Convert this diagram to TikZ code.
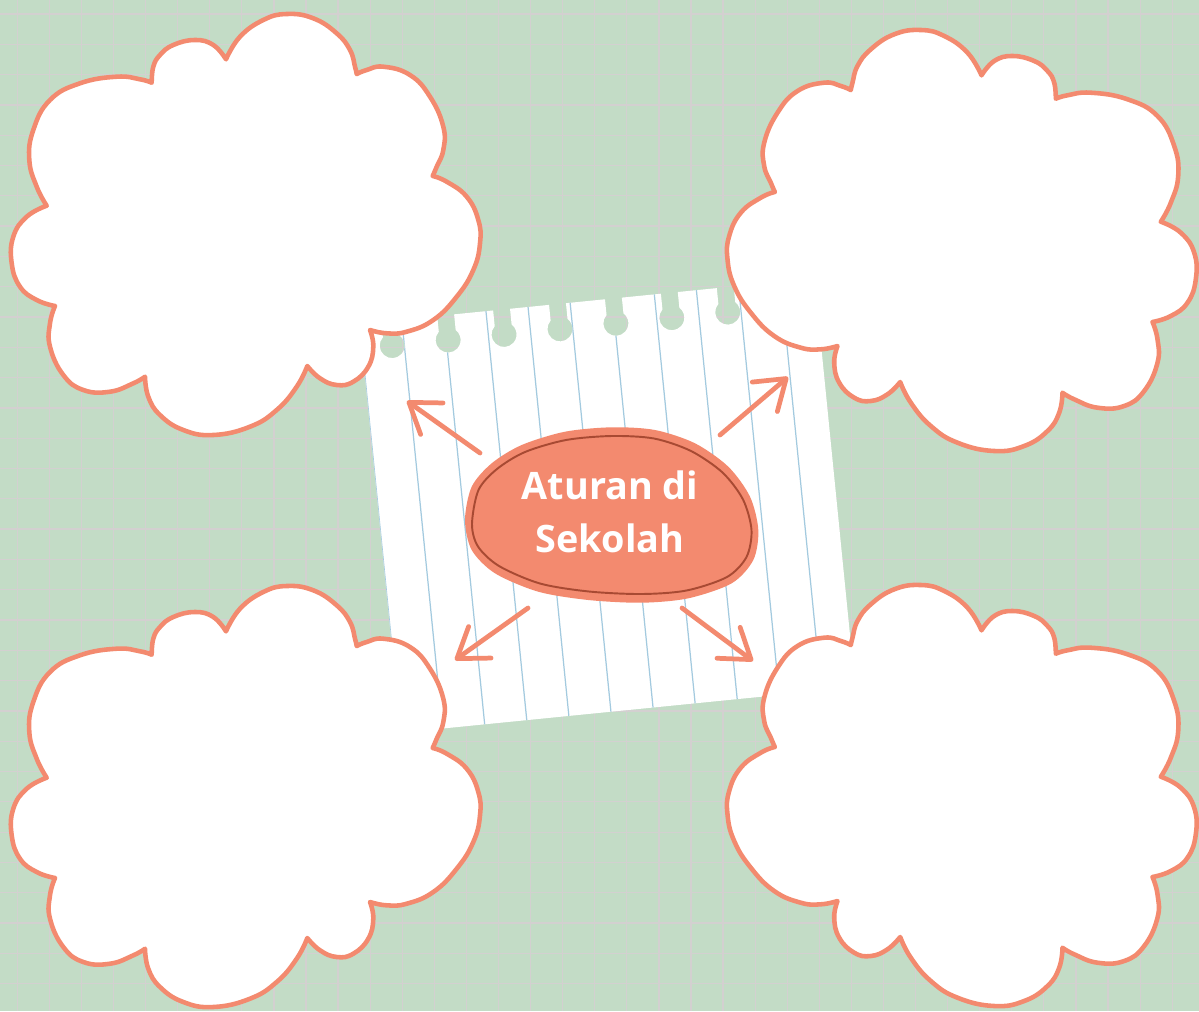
\documentclass[tikz,border=0pt]{standalone}
\usepackage{fontspec}
\newfontfamily\topicfont{Open Sans}
\usetikzlibrary{arrows.meta}

\definecolor{bggreen}{HTML}{C3DCC6}
\definecolor{gridgray}{HTML}{D3D0D0}
\definecolor{salmon}{HTML}{F38A6F}
\definecolor{rust}{HTML}{A84A33}
\definecolor{ruleblue}{HTML}{A3CADF}

\tikzset{
  gridline/.style={gridgray, line width=0.7pt},
  ruling/.style={ruleblue, line width=0.7pt},
  bubble/.style={fill=white, draw=salmon, line width=2.6pt, line join=round},
  pointer/.style={salmon, line width=2.7pt, line cap=round, line join=round,
    -{Straight Barb[length=16pt, width=22pt, round]}},
}

% one cloud, traced in pixels; the other three are copies
\def\cloudpath{%
  plot[smooth, tension=0.75] coordinates {(151.7,82.7) (153.3,66.7) (160,55) (173.3,45) (195,40) (213.3,45) (226,59.3)}
  -- plot[smooth, tension=0.75] coordinates {(226,59.3) (240,36.7) (263.3,20) (286.7,14) (313.3,18.3) (336.7,33.3) (350,50) (355,66.7) (356.7,74)}
  -- plot[smooth, tension=0.75] coordinates {(356.7,74) (366.7,70) (383.3,66.7) (410,75) (430,96.7) (443.3,126.7) (443.3,150) (436.7,166.7) (432.7,176)}
  -- plot[smooth, tension=0.75] coordinates {(432.7,176) (446.7,181.7) (466.7,196.7) (478.3,220) (480,243.3) (473.3,270) (456.7,296.7) (433.3,320) (406.7,331.7) (386.7,333.3) (370,330)}
  -- plot[smooth, tension=0.75] coordinates {(370,330) (373.3,346.7) (368.3,366.7) (353.3,381.7) (336.7,385) (320,378.3) (307.3,366)}
  -- plot[smooth, tension=0.75] coordinates {(307.3,366) (296.7,386.7) (276.7,410) (250,426.7) (213.3,435) (183.3,430) (160,415) (148.3,396.7) (145,376.7)}
  -- plot[smooth, tension=0.75] coordinates {(145,376.7) (133.3,383.3) (110,391.7) (83.3,390) (63.3,375) (50,346.7) (50,323.3) (55,306)}
  -- plot[smooth, tension=0.75] coordinates {(55,306) (36.7,300) (20,286.7) (11.7,263.3) (13.3,236.7) (26.7,216.7) (46.7,205.7)}
  -- plot[smooth, tension=0.75] coordinates {(46.7,205.7) (36.7,186.7) (29.3,160) (33.3,130) (50,100) (80,83.3) (116.7,76.7) (140,79.3) (151.7,82.7)}
  -- cycle}

% torn notebook sheet with its ring holes
\def\paperpath{(-229,205) -- (-229,-206)
  \foreach \hx in {-198.8,-142.6,-86.4,-30.2,26,82.2,138.4}{
    -- (\hx-8.5,-206) -- (\hx-8.5,-190.2)
    arc[start angle=227.2, end angle=-47.2, radius=12.5] -- (\hx+8.5,-206)}
  -- (228,-206) -- (228,205) -- cycle}

\begin{document}
\begin{tikzpicture}[x=0.02cm, y=-0.02cm]
  \useasboundingbox (0,0) rectangle (1199,1011);
  \fill[bggreen] (0,0) rectangle (1199,1011);
  \foreach \k in {0,...,36} \draw[gridline] (17.3+32.08*\k,0) -- ++(0,1011);
  \foreach \k in {0,...,32} \draw[gridline] (0,14+30.3*\k) -- ++(1199,0);

  \begin{scope}[shift={(608,506)}, rotate=5.7]
    \fill[white] \paperpath;
    \begin{scope}
      \clip \paperpath;
      \foreach \k in {0,...,10} \draw[ruling] (-229+42.3*\k,-215) -- ++(0,425);
    \end{scope}
  \end{scope}

  % centre topic
  \fill[salmon] plot[smooth cycle] coordinates {(465,520) (471.7,486.7) (491.7,463.3) (521.7,445)
    (565,431.7) (611.7,427.3) (655,430) (695,443.3) (728.3,466.7) (750,496.7) (758.3,530)
    (753.3,560) (731.7,583.3) (688.3,598.3) (641.7,602.7) (588.3,600) (538.3,591.7)
    (495,573.3) (471.7,550)};
  \draw[rust, line width=1.1pt] plot[smooth cycle] coordinates {(472,524) (478.5,490) (497,469)
    (525,452) (566,440) (611.7,436) (654,438.5) (691,451) (722.5,472.5) (743,499.5)
    (751.5,530) (746.5,557) (727,577) (686.5,590.5) (641.7,594) (589,591.5) (540,583.5)
    (499,566) (478,546.5)};
  \node (topic) at (610,512) [text=white, align=center,
    font=\topicfont\bfseries\fontsize{21.5}{29.9}\selectfont] {Aturan di\\Sekolah};

  % four clouds
  \path[bubble] \cloudpath;
  \begin{scope}[yshift=-572*0.02cm]
    \path[bubble] \cloudpath;
  \end{scope}
  \begin{scope}[shift={(1207.5,16)}, xscale=-1]
    \path[bubble] \cloudpath;
  \end{scope}
  \begin{scope}[shift={(1207.5,571)}, xscale=-1]
    \path[bubble] \cloudpath;
  \end{scope}

  % arrows out of the topic
  \coordinate (tlTail) at (480,453);  \coordinate (tlTip) at (407,401);
  \coordinate (trTail) at (720,435);  \coordinate (trTip) at (788,377);
  \coordinate (blTail) at (528,608);  \coordinate (blTip) at (455,660);
  \coordinate (brTail) at (682,608);  \coordinate (brTip) at (753,661);
  \draw[pointer] (tlTail) -- (tlTip);
  \draw[pointer] (trTail) -- (trTip);
  \draw[pointer] (blTail) -- (blTip);
  \draw[pointer] (brTail) -- (brTip);
\end{tikzpicture}
\end{document}
